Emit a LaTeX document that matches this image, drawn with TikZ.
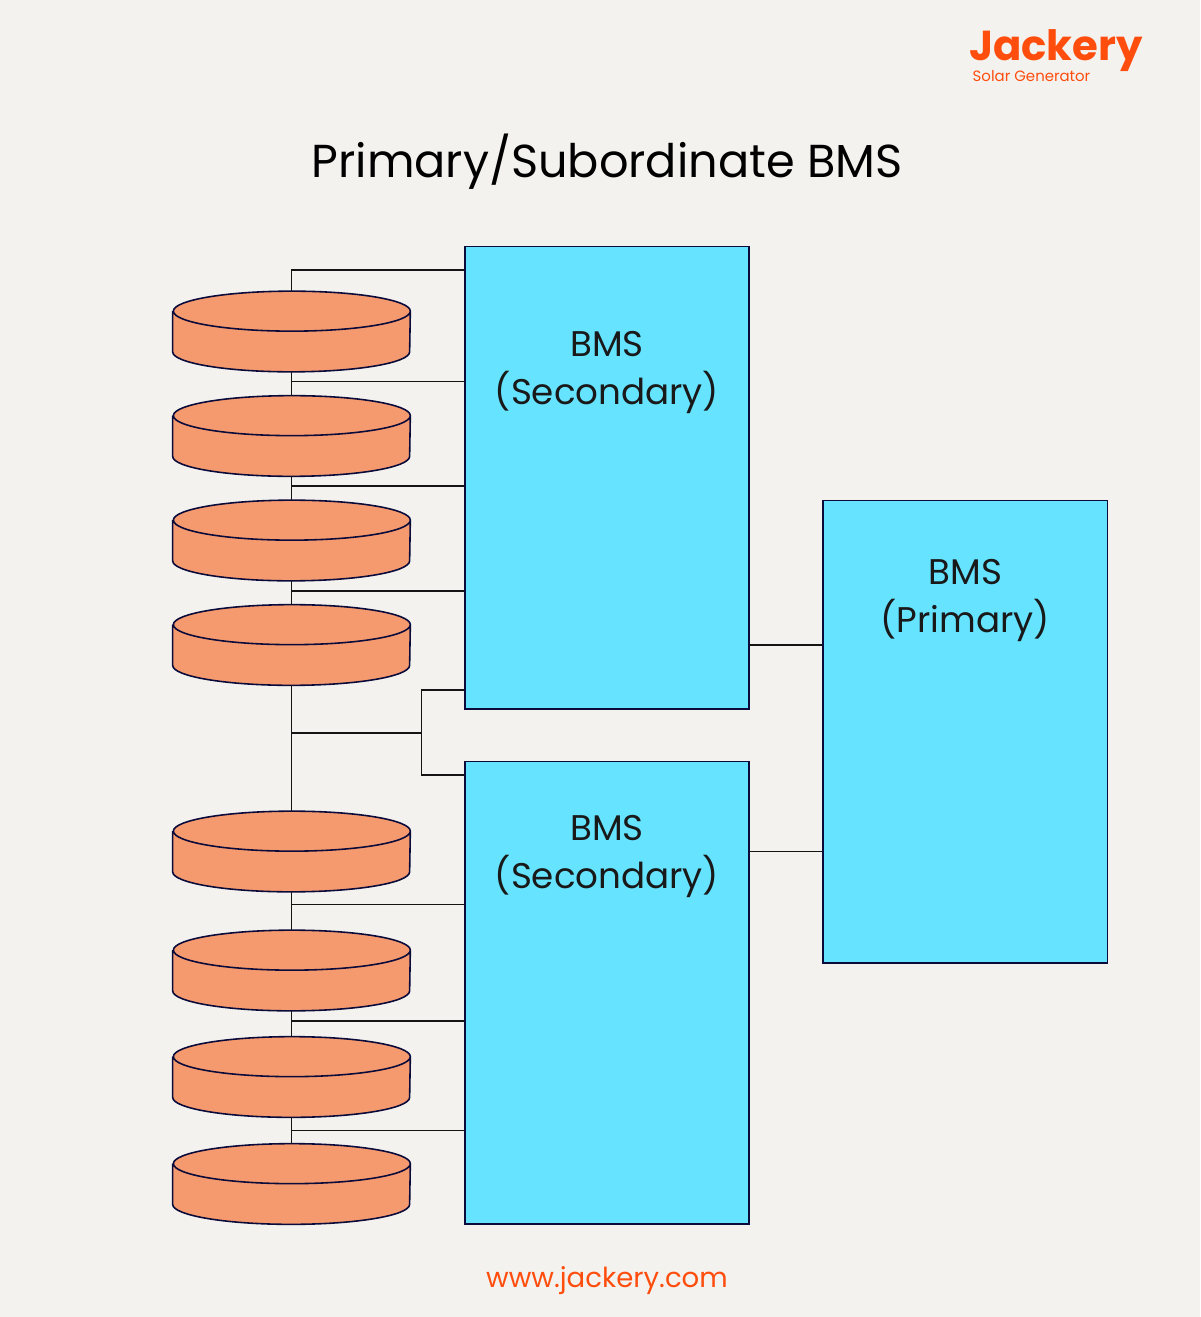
\documentclass[tikz,border=0pt]{standalone}
\usepackage{fontspec}
\setmainfont{Poppins}

\definecolor{paper}{HTML}{F3F2EE}
\definecolor{bmsblue}{HTML}{66E3FF}
\definecolor{cellorange}{HTML}{F59A6E}
\definecolor{edgenavy}{HTML}{0B0B3B}
\definecolor{brandorange}{HTML}{FF4D0D}
\definecolor{wire}{HTML}{141414}

\tikzset{
    bmsbox/.style={draw=edgenavy, fill=bmsblue, line width=0.9pt, minimum width=5.69cm, minimum height=9.25cm, inner sep=0pt},
    bmstext/.style={align=center, text=black!90, font=\fontsize{20.3}{27.6}\selectfont, inner sep=0pt},
    wireline/.style={draw=wire, line width=1pt},
    % flat disc drawn round a plain node, so that the wires can use its anchors
    cell/.style={minimum width=4.74cm, minimum height=1.6cm, inner sep=0pt,
        append after command={\pgfextra{\edef\cellname{\tikzlastnode}
            \path[fill=cellorange, draw=edgenavy, line width=0.9pt]
                ([yshift=-0.4cm]\cellname.north west) -- ([yshift=0.4cm]\cellname.south west)
                arc[start angle=180, end angle=360, x radius=2.37cm, y radius=0.4cm]
                -- ([yshift=-0.4cm]\cellname.north east)
                arc[start angle=0, end angle=180, x radius=2.37cm, y radius=0.4cm]
                arc[start angle=180, end angle=360, x radius=2.37cm, y radius=0.4cm];
        }}},
}

\begin{document}
\begin{tikzpicture}[x=0.02cm, y=-0.02cm]
    \path[fill=paper, use as bounding box] (0,0) rectangle (1200,1317);

    \node[inner sep=0pt] at (607,162) (title) {\fontsize{26.3}{32}\selectfont Primary/Subordinate BMS};
    \node[inner sep=0pt] at (1056,51) (logo) {\color{brandorange}\fontsize{23.8}{24}\selectfont\bfseries Jackery};
    \node[inner sep=0pt] at (1031.5,76) (tagline) {\color{brandorange}\fontsize{8.5}{9}\selectfont Solar Generator};
    \node[inner sep=0pt] at (607,1281) (website) {\color{brandorange}\fontsize{15.7}{18}\selectfont www.jackery.com};

    % battery cells of the upper stack
    \node[cell] at (291.5,331.5) (CellAa) {};
    \node[cell] at (291.5,436) (CellAb) {};
    \node[cell] at (291.5,540.5) (CellAc) {};
    \node[cell] at (291.5,645) (CellAd) {};

    % battery cells of the lower stack
    \node[cell] at (291.5,851.5) (CellBa) {};
    \node[cell] at (291.5,970.5) (CellBb) {};
    \node[cell] at (291.5,1077) (CellBc) {};
    \node[cell] at (291.5,1184) (CellBd) {};

    \node[bmsbox] at (607,477.75) (SecA) {};
    \node[bmsbox] at (607,992.75) (SecB) {};
    \node[bmsbox] at (965.25,731.75) (Pri) {};

    \node[bmstext] at (607,372.5) (SecAtext) {BMS\\(Secondary)};
    \node[bmstext] at (607,856.5) (SecBtext) {BMS\\(Secondary)};
    \node[bmstext] at (965.25,600.5) (Pritext) {BMS\\(Primary)};

    % tap points on the stack wiring
    \coordinate (tapAa) at (291.5,270);
    \coordinate (tapAb) at (291.5,381.5);
    \coordinate (tapAc) at (291.5,486);
    \coordinate (tapAd) at (291.5,591);
    \coordinate (tapM) at (291.5,733);
    \coordinate (tapBb) at (291.5,904.5);
    \coordinate (tapBc) at (291.5,1021);
    \coordinate (tapBd) at (291.5,1130.5);

    \coordinate (forkM) at (421.5,733);
    \coordinate (forkA) at (421.5,690);
    \coordinate (forkB) at (421.5,775);
    \coordinate (linkA) at (749.5,645);
    \coordinate (linkB) at (749.5,851.5);

    \draw[wireline] (CellAa.north) -- (tapAa) -- (tapAa -| SecA.west);
    \draw[wireline] (CellAa.south) -- (CellAb.north);
    \draw[wireline] (CellAb.south) -- (CellAc.north);
    \draw[wireline] (CellAc.south) -- (CellAd.north);
    \draw[wireline] (CellAd.south) -- (CellBa.north);
    \draw[wireline] (CellBa.south) -- (CellBb.north);
    \draw[wireline] (CellBb.south) -- (CellBc.north);
    \draw[wireline] (CellBc.south) -- (CellBd.north);

    \draw[wireline] (tapAb) -- (tapAb -| SecA.west);
    \draw[wireline] (tapAc) -- (tapAc -| SecA.west);
    \draw[wireline] (tapAd) -- (tapAd -| SecA.west);
    \draw[wireline] (tapBb) -- (tapBb -| SecB.west);
    \draw[wireline] (tapBc) -- (tapBc -| SecB.west);
    \draw[wireline] (tapBd) -- (tapBd -| SecB.west);

    \draw[wireline] (tapM) -- (forkM);
    \draw[wireline] (forkA -| SecA.west) -- (forkA) -- (forkB) -- (forkB -| SecB.west);

    \draw[wireline] (linkA) -- (linkA -| Pri.west);
    \draw[wireline] (linkB) -- (linkB -| Pri.west);
\end{tikzpicture}
\end{document}
